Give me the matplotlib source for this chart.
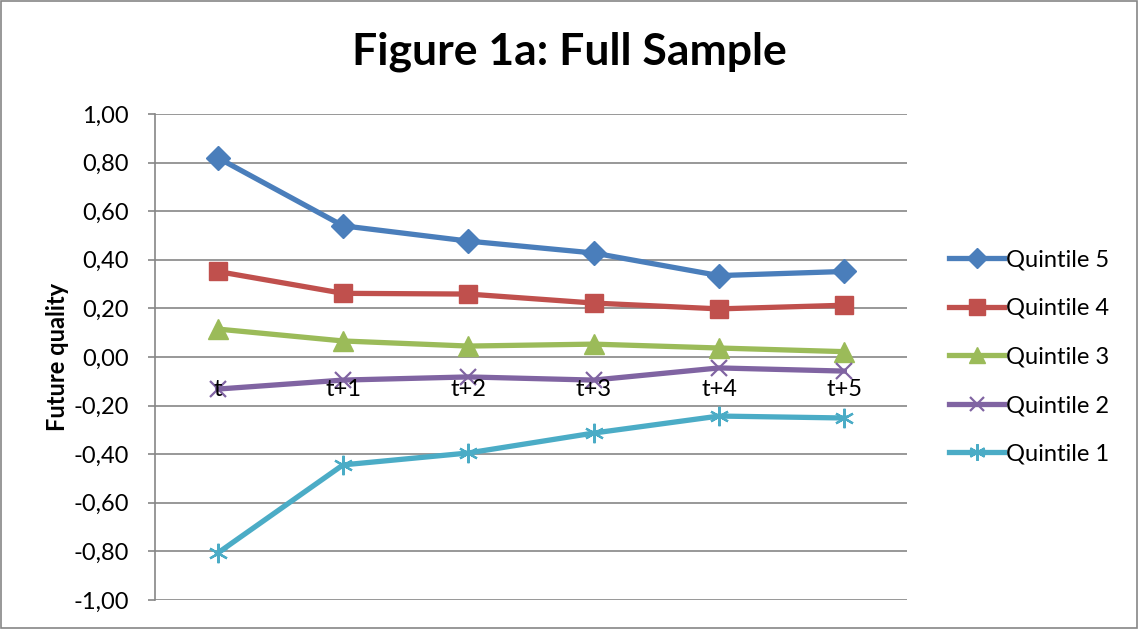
import matplotlib
matplotlib.use("Agg")
import matplotlib.pyplot as plt
from matplotlib.patches import Rectangle

periods = ["t", "t+1", "t+2", "t+3", "t+4", "t+5"]
quintile_5 = [0.82, 0.54, 0.477, 0.428, 0.335, 0.352]
quintile_4 = [0.352, 0.262, 0.259, 0.222, 0.198, 0.213]
quintile_3 = [0.115, 0.066, 0.045, 0.053, 0.037, 0.022]
quintile_2 = [-0.132, -0.095, -0.082, -0.095, -0.045, -0.058]
quintile_1 = [-0.807, -0.444, -0.395, -0.313, -0.243, -0.251]

series = [
    ("Quintile 5", quintile_5, "#4A7EBB", "D", 12),
    ("Quintile 4", quintile_4, "#C0504D", "s", 13),
    ("Quintile 3", quintile_3, "#9BBB59", "^", 14),
    ("Quintile 2", quintile_2, "#8064A2", "x", 12),
    ("Quintile 1", quintile_1, "#4BACC6", "*", 14),
]

plt.rcParams["font.family"] = ["Lato", "DejaVu Sans"]
grid_col = "#868686"
fs = 17

fig = plt.figure(figsize=(11.39, 6.29), dpi=100)
ax = fig.add_axes([155 / 1139, 1 - 600 / 629, (907 - 155) / 1139, (600 - 114) / 629])

x = list(range(len(periods)))
for name, vals, col, mk, ms in series:
    if mk == "*":
        ax.plot(x, vals, color=col, lw=3.8, marker=(6, 2, 0), ms=ms,
                mec=col, mew=1.6, label=name, zorder=3)
    elif mk == "x":
        ax.plot(x, vals, color=col, lw=3.8, marker="x", ms=ms,
                mec=col, mew=1.6, label=name, zorder=3)
    else:
        ax.plot(x, vals, color=col, lw=3.8, marker=mk, ms=ms,
                mfc=col, mec=col, label=name, zorder=3)

ax.set_xlim(-0.5, 5.5)
ax.set_ylim(-1.0, 1.0)
yt = [i / 5 for i in range(-5, 6)]
ax.set_yticks(yt)
ax.set_yticklabels([f"{v:.2f}".replace(".", ",") for v in yt], fontsize=fs)
for v in yt:
    ax.axhline(v, color=grid_col, lw=1.2, zorder=1)

# category labels sit just under the zero line, above the series
ax.set_xticks([])
for i, lab in zip(x, periods):
    ax.annotate(lab, (i, 0), xytext=(0, -16), textcoords="offset points",
                ha="center", va="top", fontsize=fs, zorder=5)

ax.spines["bottom"].set_visible(False)
ax.spines["top"].set_visible(False)
ax.spines["right"].set_visible(False)
ax.spines["left"].set_color(grid_col)
ax.spines["left"].set_linewidth(1.2)
ax.tick_params(axis="y", length=5, width=1.2, color=grid_col, pad=14)

ax.set_ylabel("Future quality", fontsize=fs, fontweight="bold", labelpad=3)
fig.text(0.5, 1 - 52 / 629, "Figure 1a: Full Sample", fontsize=32,
         fontweight="bold", ha="center", va="center")

fig.legend(loc="center left", bbox_to_anchor=(940 / 1139, 1 - 357 / 629),
           frameon=False, fontsize=fs, handlelength=2.3, handletextpad=0.1,
           labelspacing=1.17, borderaxespad=0, markerscale=0.85)

fig.patches.append(Rectangle((0.001, 0.001), 0.997, 0.997, transform=fig.transFigure,
                             fill=False, edgecolor=grid_col, lw=1.2))

fig.savefig("out.png", dpi=100)
